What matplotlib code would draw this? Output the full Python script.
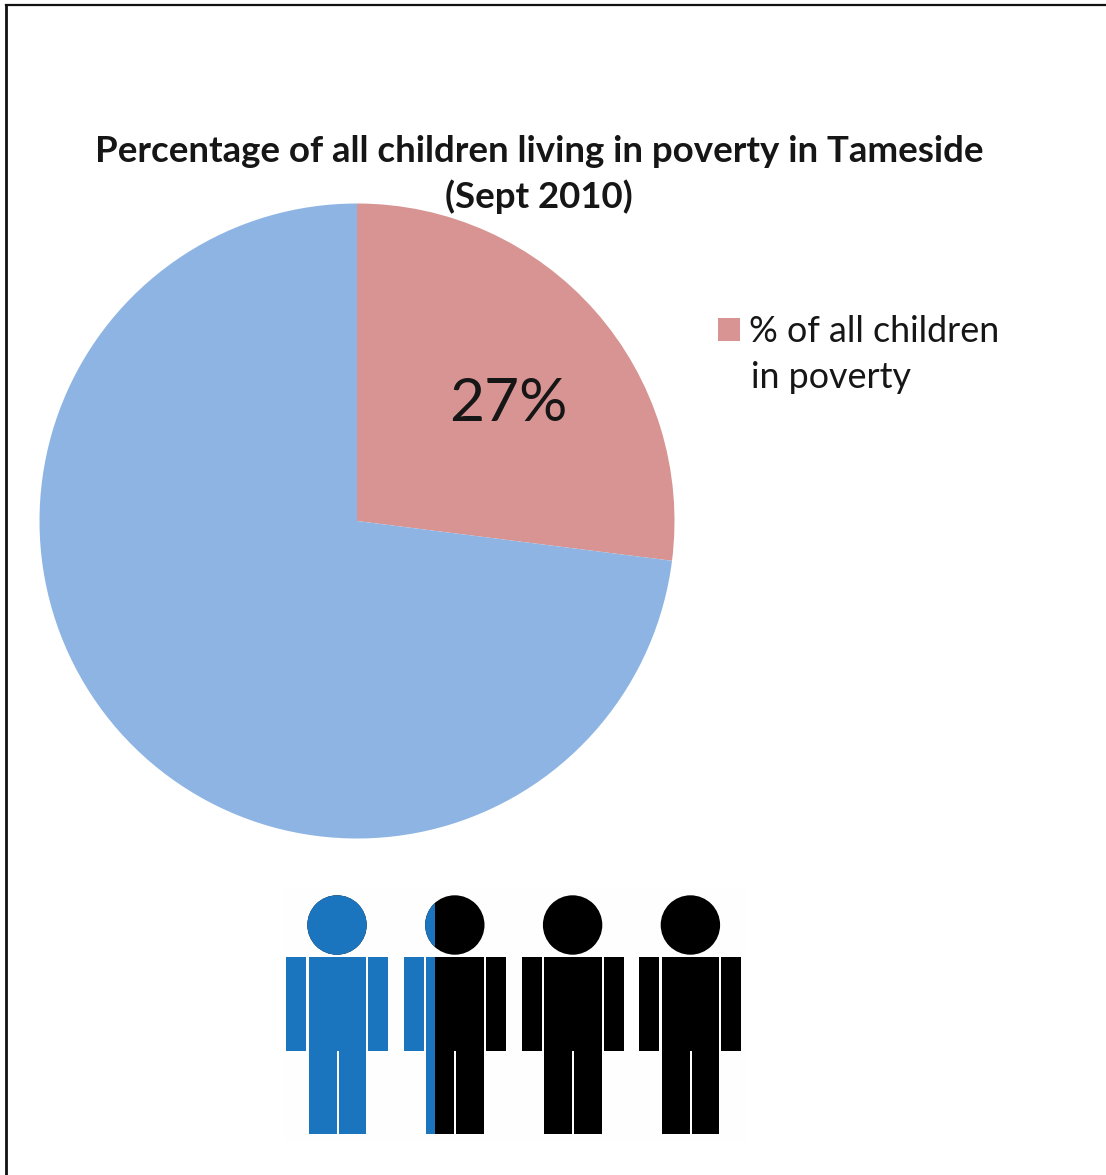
import matplotlib
matplotlib.use("Agg")
import matplotlib.pyplot as plt
from matplotlib.lines import Line2D
from matplotlib.patches import Circle, Rectangle

# Pie values
slice_labels = ["% of all children", "in poverty"]
slice_values = [27, 73]
slice_colors = ["#D79492", "#8EB4E3"]

# People row: how many figures out of four are coloured in
people_total = 4
people_filled = 1.31

W, H = 1106, 1175
plt.rcParams["font.family"] = ["Lato", "DejaVu Sans"]
text_color = "#161616"

fig = plt.figure(figsize=(W / 100, H / 100), dpi=100, facecolor="white")

# Pie chart
ax = fig.add_axes([39.5 / W, 1 - 838.5 / H, 635 / W, 635 / H])
wedges, _ = ax.pie(slice_values, colors=slice_colors, startangle=90, counterclock=False, radius=1)
ax.set_xlim(-1, 1)
ax.set_ylim(-1, 1)
ax.text(0.475, 0.37, f"{slice_values[0]}%", fontsize=43.5, color=text_color, ha="center", va="center")

# Title goes over the top of the pie
fig.text(539 / W, 1 - 151 / H, "Percentage of all children living in poverty in Tameside",
         fontsize=26.4, fontweight="bold", color=text_color, ha="center", va="center")
fig.text(539 / W, 1 - 197 / H, "(Sept 2010)",
         fontsize=26.4, fontweight="bold", color=text_color, ha="center", va="center")

# Legend only lists the poverty slice, its second line sits under the first
fig.legend([wedges[0]], [slice_labels[0]], loc="upper left", bbox_to_anchor=(718 / W, 1 - 315 / H),
           frameon=False, fontsize=25.8, labelcolor=text_color, handlelength=0.61, handleheight=0.61,
           handletextpad=0.26, borderpad=0, borderaxespad=0)
fig.text(751 / W, 1 - 378 / H, slice_labels[1], fontsize=25.8, color=text_color, ha="left", va="center")

# People row, drawn in pixel units
ax2 = fig.add_axes([0, 0, 1, 1], facecolor="none")
ax2.set_xlim(0, W)
ax2.set_ylim(H, 0)
ax2.axis("off")
ax2.add_patch(Rectangle((284, 888), 462, 254, facecolor="#fefefe", edgecolor="none"))

left = 286
pitch = 117.8
person_w = 102


def draw_person(x0, color, clip=None):
    parts = [
        Circle((x0 + 51, 925), 29.7),
        Rectangle((x0, 957), 20, 94),
        Rectangle((x0 + 22.5, 957), 57.5, 94),
        Rectangle((x0 + 82, 957), 20, 94),
        Rectangle((x0 + 22.5, 1050), 28, 84),
        Rectangle((x0 + 52.5, 1050), 27.5, 84),
    ]
    for p in parts:
        p.set_facecolor(color)
        p.set_edgecolor("none")
        ax2.add_patch(p)
        if clip is not None:
            p.set_clip_path(clip)


boundary = left + pitch * int(people_filled) + (people_filled % 1) * person_w
clip_rect = Rectangle((0, 0), boundary, H, transform=ax2.transData)
for i in range(people_total):
    draw_person(left + i * pitch, "black")
    draw_person(left + i * pitch, "#1B75BE", clip=clip_rect)

# Frame along the top and left edges
fig.add_artist(Line2D([6 / W, 6 / W], [0, 1 - 5 / H], color="#111111", lw=2))
fig.add_artist(Line2D([6 / W, 1], [1 - 5 / H, 1 - 5 / H], color="#111111", lw=1.6))

fig.savefig("out.png", dpi=100)
